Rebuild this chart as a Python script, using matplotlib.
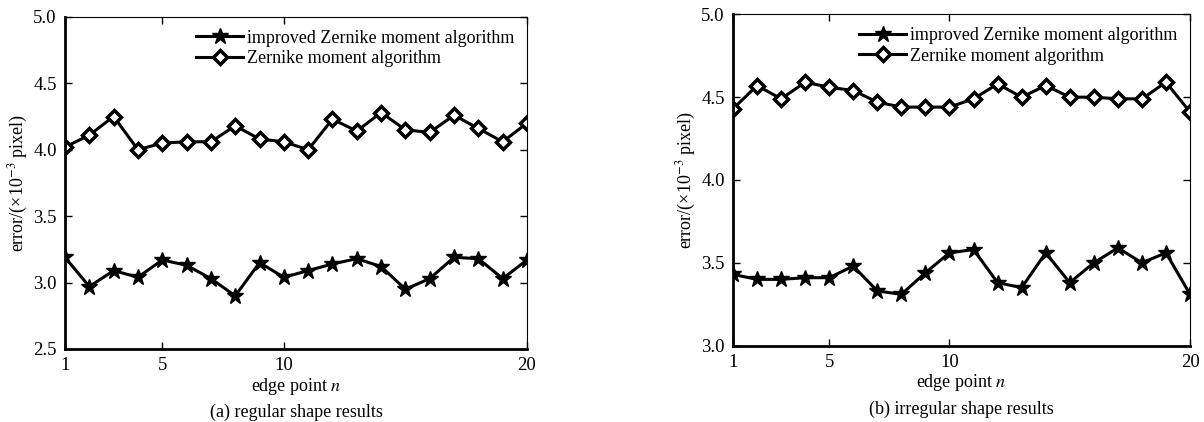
import matplotlib
matplotlib.use('Agg')
import matplotlib.pyplot as plt
import numpy as np

plt.rcParams['font.family'] = ['Liberation Serif', 'DejaVu Serif']
plt.rcParams['mathtext.fontset'] = 'stix'

n = np.arange(1, 21)

# (a) regular shape
reg_improved = [3.19, 2.97, 3.09, 3.04, 3.17, 3.13, 3.03, 2.90, 3.15, 3.04,
                3.09, 3.14, 3.18, 3.12, 2.95, 3.03, 3.19, 3.18, 3.03, 3.17]
reg_zernike = [4.02, 4.11, 4.25, 4.00, 4.05, 4.06, 4.06, 4.18, 4.08, 4.06,
               4.00, 4.23, 4.14, 4.28, 4.15, 4.13, 4.26, 4.16, 4.06, 4.20]

# (b) irregular shape
irr_improved = [3.43, 3.40, 3.40, 3.41, 3.41, 3.48, 3.33, 3.31, 3.44, 3.56,
                3.58, 3.38, 3.35, 3.56, 3.38, 3.50, 3.59, 3.50, 3.56, 3.31]
irr_zernike = [4.43, 4.57, 4.49, 4.59, 4.56, 4.54, 4.47, 4.44, 4.44, 4.44,
               4.49, 4.58, 4.50, 4.57, 4.50, 4.50, 4.49, 4.49, 4.59, 4.41]

xticks = [1, 5, 10, 20]
labels = ['improved Zernike moment algorithm', 'Zernike moment algorithm']

fs = 13
fig = plt.figure(figsize=(12.04, 4.22), dpi=100)
ax1 = fig.add_axes([0.054, 0.173, 0.3837, 0.787])
ax2 = fig.add_axes([0.6088, 0.181, 0.3796, 0.785])

panels = [
    (ax1, reg_improved, reg_zernike, (2.5, 5.0), np.arange(2.5, 5.01, 0.5), '(a) regular shape results'),
    (ax2, irr_improved, irr_zernike, (3.0, 5.0), np.arange(3.0, 5.01, 0.5), '(b) irregular shape results'),
]

for ax, imp, zer, ylim, yt, caption in panels:
    ax.plot(n, imp, color='black', lw=2.2, marker='*', ms=12, mfc='black', mec='black', label=labels[0])
    ax.plot(n, zer, color='black', lw=2.2, marker='D', ms=7, mfc='white', mec='black', mew=2.5, label=labels[1])
    ax.set_xlim(1, 20)
    ax.set_ylim(*ylim)
    ax.set_xticks(xticks)
    ax.set_yticks(yt)
    ax.set_yticklabels([f'{v:.1f}' for v in yt])
    ax.tick_params(direction='in', length=5, width=1, labelsize=13.5, top=True, right=True, pad=6)
    for s in ['left', 'bottom']:
        ax.spines[s].set_linewidth(2)
    for s in ['top', 'right']:
        ax.spines[s].set_linewidth(0.8)
    ax.set_xlabel('edge point $n$', fontsize=fs, labelpad=1)
    ax.set_ylabel('error/(×10$^{-3}$ pixel)', fontsize=fs, labelpad=2)
    ax.text(0.5, -0.165, caption, transform=ax.transAxes, ha='center', va='top', fontsize=fs)
    ax.legend(loc='upper right', frameon=False, fontsize=fs, handlelength=2.6,
              handletextpad=0.2, labelspacing=0.2, borderaxespad=0.3)

plt.savefig('out.png', dpi=100)
